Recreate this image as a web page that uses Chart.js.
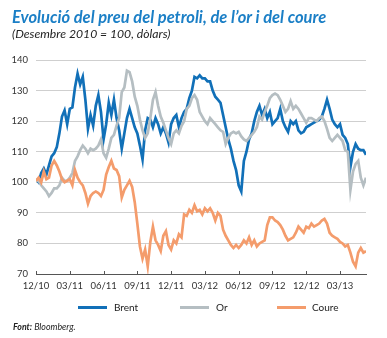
<!DOCTYPE html>
<html>
<head>
<meta charset="utf-8">
<script src="https://cdn.jsdelivr.net/npm/chart.js@4.4.1/dist/chart.umd.min.js"></script>
<style>
  html, body { margin:0; padding:0; background:#fff; }
  body { width:387px; height:338px; position:relative; overflow:hidden; font-family:Lato, "Open Sans", sans-serif; }
  #c { position:absolute; left:0; top:0; }
  .t { position:absolute; white-space:nowrap; line-height:1; }
  .sw { position:absolute; height:3px; }
</style>
</head>
<body>
<canvas id="c" width="387" height="338"></canvas>
<div class="t" id="title" style="left:12px;top:9px;font-style:italic;font-weight:bold;font-size:16.5px;color:#1b7fc6;">Evolució del preu del petroli, de l’or i del coure</div>
<div class="t" id="sub" style="left:12px;top:28px;font-style:italic;font-size:12.2px;color:#222;">(Desembre 2010 = 100, dòlars)</div>

<div class="sw" style="left:78px;top:306px;width:29px;background:#1170b8;"></div>
<div class="t" style="left:114px;top:302px;font-size:10px;color:#222;">Brent</div>
<div class="sw" style="left:180px;top:306px;width:29px;background:#b5bec2;"></div>
<div class="t" style="left:216px;top:302px;font-size:10px;color:#222;">Or</div>
<div class="sw" style="left:277px;top:306px;width:29px;background:#f49c6c;"></div>
<div class="t" style="left:312px;top:302px;font-size:10px;color:#222;">Coure</div>

<div class="t" style="left:13px;top:323px;font-style:italic;font-size:8.8px;color:#222;"><b>Font:</b> Bloomberg.</div>

<script>
// Weekly index values, December 2010 = 100
const xTickLabels = ['12/10','03/11','06/11','09/11','12/11','03/12','06/12','09/12','12/12','03/13'];
const yTicks = [70, 80, 90, 100, 110, 120, 130, 140];

const brent = [
  101,100,103,104.5,102.5,105.5,108.5,109.5,111.5,116,
  121.5,123.5,119,124,124.5,131,135.5,132,134.5,127,
  117.5,122,118.5,125,128.5,123,114,119,126,122,
  127,121,117,111,116,121,124,121,118,116,
  112,107.5,117,121,120.5,118,121,119,116,118,
  116,113,119,121,122,118,121,123,124,127.5,
  130,134.5,134,135,134,134,133,133,130,128,
  127,126,122,118,114,111,107,104,99,97,
  107,110,114,116,120,123,125,122,124,121,
  123,119,120,121,124,120,118,116.5,120,119,
  120,117,116,116.5,118,118.5,119,119.5,120,120.5,
  121.5,124,127,124,120.5,119,118,119,115.5,114.5,
  112.5,105,110,112.5,111,110.5,110.5,109
];

const gold = [
  100.5,100.5,99,98,97,95.5,96.5,98,98,99,
  101.5,100.5,100.5,101.5,103,107,108.5,110.5,112,111,
  109.5,111,110.5,111,112,114,109.5,108,111,114.5,
  115.5,118.5,121,129.5,131,136.5,136,133,128,125,
  120.5,117,114.5,116,121,127,129.5,125,121.5,119.5,
  117,114.5,112.5,116,117,116,118.5,120,124,125,
  127.5,128.5,127,123,121.5,120,119,121,120,119,
  118,117,116.5,112.5,114.5,116,116.5,116,116.5,115,
  114,113.5,114.5,115.5,116.5,118,121.5,120.5,123,125,
  127.5,128.5,129,128.5,127,125,123,124,126.5,124,
  125,124,122.5,121,119.5,121,121,120.5,120,121,
  121.5,120,117.5,114.5,113.5,114.5,115.5,114.5,113.5,110.5,
  110,97.5,103.5,106,107,101.5,99,101.5
];

const copper = [
  100.5,101.5,100,103.5,101,101.5,105.5,107,105.5,103.5,
  101,100,100.5,101,99,104,101.5,100,99,96.5,
  93,95.5,96.5,97,96.5,95.5,97.5,102.5,105,107,
  104.5,104,102,95,97.5,99,100.5,98.5,93.5,86.5,
  79,75,78,72.5,80.5,85.5,81,79.5,77.5,82.5,
  84,79.5,78,81,80,83,82,89.5,89,91,
  90,92.5,90.5,91,89.5,91.5,90.5,91.5,90,87.5,
  90,89,84.5,82.5,81,79.5,78.5,79.5,78.5,79.5,
  81,80,82,79.5,81,79,80,80.5,81,86,
  88.5,88.5,87.5,87,86,84.5,82.5,81,81.5,82,
  83.5,85.5,84.5,83.5,85.5,85,86.5,85.5,86,86.5,
  87.5,88,86.5,83.5,82.5,82,81.5,80.5,80,79,
  79.5,77,74,72.5,77,78.5,77,77.5
];

const toPts = arr => arr.map((v, i) => ({ x: i, y: v }));
const weeksPerQuarter = 13;

const upTicks = {
  id: 'upTicks',
  afterDraw(chart) {
    const s = chart.scales.x;
    const ctx = chart.ctx;
    ctx.save();
    ctx.strokeStyle = '#555';
    ctx.lineWidth = 1;
    ctx.beginPath();
    s.ticks.forEach(t => {
      const px = Math.round(s.getPixelForValue(t.value)) + 0.5;
      ctx.moveTo(px, s.top - 3);
      ctx.lineTo(px, s.top + 1);
    });
    ctx.stroke();
    ctx.restore();
  }
};

new Chart(document.getElementById('c'), {
  type: 'line',
  data: {
    datasets: [
      { label: 'Brent', data: toPts(brent), borderColor: '#1170b8', borderWidth: 2.7, pointRadius: 0, tension: 0, order: 3 },
      { label: 'Or', data: toPts(gold), borderColor: '#b5bec2', borderWidth: 2.7, pointRadius: 0, tension: 0, order: 2 },
      { label: 'Coure', data: toPts(copper), borderColor: '#f49c6c', borderWidth: 2.7, pointRadius: 0, tension: 0, order: 1 }
    ]
  },
  options: {
    responsive: false,
    animation: false,
    devicePixelRatio: 1,
    layout: { padding: { left: 0, right: 21, top: 60, bottom: 44 } },
    plugins: { legend: { display: false }, tooltip: { enabled: false } },
    scales: {
      x: {
        type: 'linear',
        min: 0,
        max: brent.length - 1,
        afterBuildTicks: s => { s.ticks = xTickLabels.map((_, i) => ({ value: i * weeksPerQuarter })); },
        afterFit: s => { s.height = 20; },
        ticks: {
          callback: v => xTickLabels[Math.round(v / weeksPerQuarter)],
          font: { family: 'Lato', size: 9.5 },
          color: '#333',
          padding: 6,
          maxRotation: 0,
          autoSkip: false
        },
        grid: { drawOnChartArea: false, drawTicks: false },
        border: { display: true, color: '#555', width: 1 }
      },
      y: {
        min: yTicks[0],
        max: yTicks[yTicks.length - 1],
        afterBuildTicks: s => { s.ticks = yTicks.map(v => ({ value: v })); },
        afterFit: s => { s.width = 36; },
        ticks: { font: { family: 'Lato', size: 9.5 }, color: '#333', padding: 8 },
        grid: { color: '#cfcfcf', lineWidth: 1, drawTicks: false },
        border: { display: false }
      }
    }
  },
  plugins: [upTicks]
});
</script>
</body>
</html>
